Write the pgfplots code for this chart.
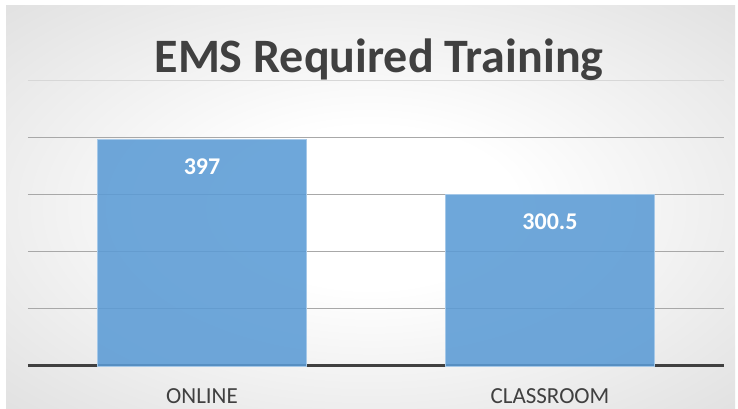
\documentclass[border=0pt]{standalone}
\usepackage{pgfplots}
\pgfplotsset{compat=1.18}
\usepackage{fontspec}
\setmainfont{Carlito}
\definecolor{barblue}{RGB}{91,155,213}
\definecolor{txt}{RGB}{64,64,64}
\definecolor{gridc}{RGB}{168,168,168}
\definecolor{gridtop}{RGB}{215,215,215}
\definecolor{edgec}{RGB}{190,190,190}
\pgfdeclareradialshading{bgshade}{\pgfpoint{0bp}{0bp}}{color(0bp)=(white); color(10bp)=(white); color(66bp)=(edgec)}
\begin{document}
\begin{tikzpicture}
\useasboundingbox (0pt,0pt) rectangle (738pt,409pt);
\fill[white] (0pt,0pt) rectangle (738pt,409pt);
\shade[shading=bgshade] (6pt,0pt) rectangle (735pt,403pt);
\begin{axis}[
  at={(28pt,43pt)}, anchor=south west,
  scale only axis, width=696pt, height=285pt,
  xmin=-0.5, xmax=1.5, ymin=0, ymax=500,
  axis x line*=bottom,
  x axis line style={line width=3pt, color=txt},
  y axis line style={draw=none},
  xtick={0,1}, xticklabels={ONLINE,CLASSROOM},
  major tick length=0pt,
  xticklabel style={font=\fontsize{23}{23}\selectfont, text=txt, anchor=base, yshift=-37pt},
  ytick={100,200,300,400}, yticklabels={},
  extra y ticks={500}, extra y tick labels={},
  extra y tick style={grid style={draw=gridtop, line width=1pt}},
  ymajorgrids, grid style={draw=gridc, line width=1pt},
  ybar, bar width=209pt,
  clip=false,
]
\addplot[fill=barblue, fill opacity=0.88, draw=barblue!55!white, line width=0.8pt,
  nodes near coords, point meta=explicit symbolic,
  nodes near coords style={font=\fontsize{24}{24}\selectfont\bfseries, text=white, text opacity=1, anchor=center, yshift=-27pt}]
  coordinates {(0,397) [397] (1,300.5) [300.5]};
\end{axis}
\node[font=\fontsize{48}{50}\selectfont\bfseries, text=txt, anchor=base] at (379pt,336pt) {EMS Required Training};
\end{tikzpicture}
\end{document}
